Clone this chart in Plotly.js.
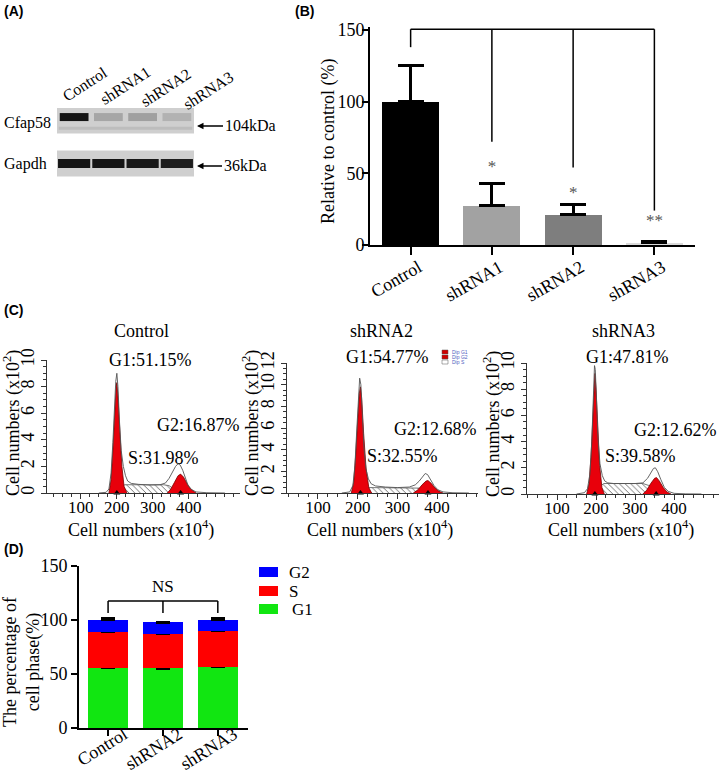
<!DOCTYPE html>
<html><head><meta charset="utf-8">
<script src="https://cdn.plot.ly/plotly-3.0.1.min.js"></script>
<style>html,body{margin:0;padding:0;background:#fff}#chart{width:720px;height:773px}</style>
</head><body><div id="chart"></div>
<script>
// ---------- Panel A : western blot ----------
const blotLanes = ['Control', 'shRNA1', 'shRNA2', 'shRNA3'];
const blotRows = ['Gapdh', 'Cfap58'];
const blotSizes = ['36kDa', '104kDa'];
const cfap58Intensity = [0.95, 0.2, 0.23, 0.14];
const gapdhIntensity = [0.95, 0.95, 0.93, 0.9];

// ---------- Panel B : relative expression ----------
const knockCategories = ['Control', 'shRNA1', 'shRNA2', 'shRNA3'];
const knockValues = [100, 27.5, 21, 1.5];
const knockErrors = [25, 15.5, 7, 1];
const knockStars = ['', '*', '*', '**'];
const knockStarY = [0, 54, 36, 16];
const knockBracketTop = 150.5;
const knockBracketEnds = [138, 72, 54, 24];

// ---------- Panel C : cell cycle histograms ----------
const cyclePanels = ['Control', 'shRNA2', 'shRNA3'];
const g1Pcts = [51.15, 54.77, 47.81];
const sPcts = [31.98, 32.55, 39.58];
const g2Pcts = [16.87, 12.68, 12.62];

const ctrlEnvX = [150,170,178,184,189,194,197,200,203,207,212,218,224,230,240,260,290,320,335,345,355,363,370,376,383,390,398,408,420,450,500];
const ctrlEnvY = [0,0.05,0.3,1.5,3.8,6.8,8.4,9.0,8.0,5.5,3.2,2.0,1.3,0.9,0.72,0.65,0.6,0.62,0.75,1.1,1.6,2.0,2.2,2.1,1.7,1.1,0.55,0.25,0.08,0.02,0];
const ctrlG1X = [178,184,189,194,198,200,203,208,214,220,228];
const ctrlG1Y = [0,1.0,3.2,6.2,8.0,8.3,7.3,4.8,2.0,0.5,0];
const ctrlG2X = [340,350,360,370,377,385,395,405,420];
const ctrlG2Y = [0,0.3,0.8,1.3,1.42,1.2,0.7,0.3,0];
const ctrlSX = [195,210,222,260,300,330,345,360,375];
const ctrlSY = [0,0.45,0.62,0.63,0.6,0.62,0.55,0.3,0];
const ctrlPeaks = [200, 377];

const sh2EnvX = [160,180,188,193,198,202,205,208,212,216,221,227,234,245,270,300,330,345,355,363,370,376,383,392,402,415,440,480];
const sh2EnvY = [0,0.1,0.7,2.5,6.0,9.2,10.6,10.0,7.0,4.0,2.2,1.3,0.85,0.65,0.55,0.5,0.55,0.75,1.1,1.5,1.8,1.7,1.3,0.7,0.3,0.1,0.02,0];
const sh2G1X = [184,190,195,200,204,207,210,215,221,228,235];
const sh2G1Y = [0,1.0,3.5,7.0,9.2,9.8,8.8,5.5,2.3,0.5,0];
const sh2G2X = [340,352,362,372,377,385,395,405,415];
const sh2G2Y = [0,0.3,0.75,1.1,1.15,0.9,0.45,0.15,0];
const sh2SX = [200,215,228,270,310,340,355,368,380];
const sh2SY = [0,0.35,0.5,0.48,0.45,0.5,0.45,0.25,0];
const sh2Peaks = [207, 377];

const sh3EnvX = [150,170,178,184,189,193,196,198,201,205,210,216,222,230,245,270,300,320,332,340,347,352,358,366,375,385,400,430,470];
const sh3EnvY = [0,0.1,0.4,1.5,4.0,7.5,9.8,9.5,7.0,4.2,2.3,1.4,1.0,0.85,0.8,0.78,0.8,0.85,1.2,1.6,1.95,2.0,1.7,1.1,0.5,0.2,0.05,0.01,0];
const sh3G1X = [176,182,187,191,194,197,200,204,209,215,221];
const sh3G1Y = [0,0.8,2.8,5.5,7.8,9.2,8.0,5.0,2.2,0.5,0];
const sh3G2X = [320,330,340,350,355,362,372,382,392];
const sh3G2Y = [0,0.3,0.8,1.2,1.25,1.0,0.5,0.15,0];
const sh3SX = [190,205,220,260,300,320,335,350,365];
const sh3SY = [0,0.5,0.8,0.82,0.8,0.8,0.65,0.3,0];
const sh3Peaks = [197, 354];

// ---------- Panel D : phase percentages ----------
const phaseCategories = ['Control', 'shRNA2', 'shRNA3'];
const phaseNames = ['G1', 'S', 'G2'];
const g1Values = [55.6, 55.3, 56.8];
const sValues = [33.4, 31.7, 33.0];
const g2Values = [11.0, 10.8, 10.2];
const g1Err = [1.8, 1.0, 4.5];
const sErr = [1.0, 0.8, 3.0];
const g2Err = [2.0, 0.5, 1.5];
const nsBracketTop = 117.6;
const nsBracketEnd = 106.5;
const nsLabelY = 129.6;

// ================= drawing =================
const SERIF = 'Liberation Serif';
const SANS = 'Liberation Sans';
const W = 720, H = 773;
const px = v => v / W;
const py = v => 1 - v / H;
const traces = [], shapes = [], annotations = [];
function note(text, x, y, size, extra) {
  annotations.push(Object.assign({text:text, xref:'paper', yref:'paper', x:px(x), y:py(y),
    xanchor:'center', yanchor:'middle', showarrow:false,
    font:{family:SERIF, size:size, color:'#000'}}, extra || {}));
}

// ---- A ----
blotRows.forEach((row, r) => {
  shapes.push({type:'rect', xref:'x6', yref:'y6', x0:-0.5, x1:blotLanes.length - 0.5,
    y0:r - 0.3, y1:r + 0.3, fillcolor:'#cfcfcf', line:{width:0}, layer:'below'});
});
traces.push({type:'scatter', mode:'lines', xaxis:'x6', yaxis:'y6',
  x:[-0.45, blotLanes.length - 0.55], y:[0.82, 0.82],
  line:{color:'#bdbdbd', width:3}, hoverinfo:'skip', showlegend:false});
[gapdhIntensity, cfap58Intensity].forEach((vals, r) => {
  vals.forEach((v, i) => {
    const g = Math.round(205 - 195 * v);
    const half = r === 1 ? 0.42 : 0.47;
    const yy = r + (r === 1 ? 0.08 : 0);
    traces.push({type:'scatter', mode:'lines', xaxis:'x6', yaxis:'y6',
      x:[i - half, i + half], y:[yy, yy],
      line:{color:`rgb(${g},${g},${g})`, width: r === 1 ? 8 : 9},
      hoverinfo:'skip', showlegend:false});
  });
});
const laneLabelPos = [[84, 84], [125, 85], [166, 88], [208, 90]];
blotLanes.forEach((l, i) => note(l, laneLabelPos[i][0], laneLabelPos[i][1], 16, {textangle:-33}));
const rowLabelPos = [[26, 164], [27.5, 123]];
const arrowY = [166, 126];
blotRows.forEach((row, r) => {
  note(row, rowLabelPos[r][0], rowLabelPos[r][1], 16);
  annotations.push({text:blotSizes[r], xref:'paper', yref:'paper', x:px(197), y:py(arrowY[r]),
    xanchor:'center', yanchor:'middle',
    showarrow:true, ax: r === 1 ? 53 : 48, ay:0, arrowhead:2, arrowsize:1, arrowwidth:1.3,
    arrowcolor:'#000', standoff:0, font:{family:SERIF, size:16, color:'#000'}});
});

// ---- B ----
const knockColors = ['#000000', '#a2a2a2', '#7e7e7e', '#dadada'];
traces.push({type:'bar', xaxis:'x', yaxis:'y', x:knockCategories, y:knockValues, width:0.7,
  marker:{color:knockColors, line:{width:0}},
  error_y:{type:'data', symmetric:false, array:knockErrors, arrayminus:knockErrors.map(() => 0),
    color:'#000', thickness:3, width:13},
  hoverinfo:'skip', showlegend:false});
const bx = [knockCategories[0], knockCategories[knockCategories.length - 1]];
const by = [knockBracketTop, knockBracketTop];
knockCategories.forEach((c, i) => { bx.push(null, c, c); by.push(null, knockBracketTop, knockBracketEnds[i]); });
traces.push({type:'scatter', mode:'lines', xaxis:'x', yaxis:'y', x:bx, y:by,
  line:{color:'#000', width:1.5}, connectgaps:false, hoverinfo:'skip', showlegend:false});
traces.push({type:'scatter', mode:'text', xaxis:'x', yaxis:'y', x:knockCategories.slice(1), y:knockStarY.slice(1),
  text:knockStars.slice(1), textfont:{family:SERIF, size:17, color:'#555'}, hoverinfo:'skip', showlegend:false});
note('Relative to control (%)', 328, 142, 18, {textangle:-90});

// ---- C ----
const hist = [
  {env:[ctrlEnvX, ctrlEnvY], g1:[ctrlG1X, ctrlG1Y], g2:[ctrlG2X, ctrlG2Y], s:[ctrlSX, ctrlSY], peaks:ctrlPeaks},
  {env:[sh2EnvX, sh2EnvY], g1:[sh2G1X, sh2G1Y], g2:[sh2G2X, sh2G2Y], s:[sh2SX, sh2SY], peaks:sh2Peaks},
  {env:[sh3EnvX, sh3EnvY], g1:[sh3G1X, sh3G1Y], g2:[sh3G2X, sh3G2Y], s:[sh3SX, sh3SY], peaks:sh3Peaks}
];
hist.forEach((h, k) => {
  const xa = 'x' + (k + 2), ya = 'y' + (k + 2);
  traces.push({type:'scatter', mode:'lines', xaxis:xa, yaxis:ya, x:h.s[0], y:h.s[1], fill:'tozeroy',
    fillcolor:'rgba(255,255,255,0)', fillpattern:{shape:'\\', fgcolor:'#555', bgcolor:'#fff', size:4, solidity:0.2},
    line:{color:'#555', width:0.8}, hoverinfo:'skip', showlegend:false});
  [h.g1, h.g2].forEach(p => traces.push({type:'scatter', mode:'lines', xaxis:xa, yaxis:ya, x:p[0], y:p[1],
    fill:'tozeroy', fillcolor:'#e8000b', line:{color:'#7a0000', width:0.8}, hoverinfo:'skip', showlegend:false}));
  traces.push({type:'scatter', mode:'lines', xaxis:xa, yaxis:ya, x:h.env[0], y:h.env[1],
    line:{color:'#555', width:0.9}, hoverinfo:'skip', showlegend:false});
  traces.push({type:'scatter', mode:'markers', xaxis:xa, yaxis:ya, x:h.peaks, y:h.peaks.map(() => 0),
    marker:{symbol:'triangle-up', size:6, color:'#000'}, cliponaxis:false, hoverinfo:'skip', showlegend:false});
});
const titlePos = [[141, 331], [381, 331], [623, 331]];
const g1Pos = [[150, 360], [387, 357], [627, 357]];
const g2Pos = [[198, 425], [435, 429], [675, 430]];
const sPos = [[163, 458], [402, 456], [640, 456]];
const xTitlePos = [[141, 529], [380, 529], [621, 529]];
const yTitlePos = [[12, 423], [251, 423], [492, 424]];
cyclePanels.forEach((name, k) => {
  note(name, titlePos[k][0], titlePos[k][1], 18);
  note('G1:' + g1Pcts[k].toFixed(2) + '%', g1Pos[k][0], g1Pos[k][1], 18);
  note('G2:' + g2Pcts[k].toFixed(2) + '%', g2Pos[k][0], g2Pos[k][1], 18);
  note('S:' + sPcts[k].toFixed(2) + '%', sPos[k][0], sPos[k][1], 18);
  note('Cell numbers (x10<sup>4</sup>)', xTitlePos[k][0], xTitlePos[k][1], 18);
  note('Cell numbers (x10<sup>2</sup>)', yTitlePos[k][0], yTitlePos[k][1], 18, {textangle:-90});
});
const miniLegend = ['Dip G1', 'Dip G2', 'Dip S'];
miniLegend.forEach((t, i) => {
  const yc = 352 + i * 5;
  shapes.push({type:'rect', xref:'paper', yref:'paper', x0:px(442), x1:px(448), y0:py(yc + 2), y1:py(yc - 2),
    fillcolor: i < 2 ? '#d00000' : '#fff', line:{color:'#555', width:0.5}});
  note(t, 450, yc, 5, {xanchor:'left', font:{family:SANS, size:5, color:'#5060c0'}});
});

// ---- D ----
const phaseColors = ['#11e611', '#ff0000', '#0000ff'];
[[g1Values, g1Err], [sValues, sErr], [g2Values, g2Err]].forEach(([vals, err], k) => traces.push({type:'bar',
  name:phaseNames[k], xaxis:'x5', yaxis:'y5',
  x:phaseCategories, y:vals, width:0.73, marker:{color:phaseColors[k], line:{width:0}},
  error_y:{type:'data', symmetric:false, array:err, arrayminus:err.map(() => 0), color:'#000', thickness:2.5, width:7},
  hoverinfo:'skip', showlegend:false}));
const nx = [phaseCategories[0], phaseCategories[phaseCategories.length - 1]];
const ny = [nsBracketTop, nsBracketTop];
phaseCategories.forEach(c => { nx.push(null, c, c); ny.push(null, nsBracketTop, nsBracketEnd); });
traces.push({type:'scatter', mode:'lines', xaxis:'x5', yaxis:'y5', x:nx, y:ny,
  line:{color:'#000', width:1.5}, hoverinfo:'skip', showlegend:false});
traces.push({type:'scatter', mode:'text', xaxis:'x5', yaxis:'y5', x:[phaseCategories[1]], y:[nsLabelY],
  text:['NS'], textfont:{family:SERIF, size:17, color:'#000'}, hoverinfo:'skip', showlegend:false});
const legendRowY = [609, 591, 572];
phaseNames.forEach((n, k) => {
  const yc = legendRowY[k];
  shapes.push({type:'rect', xref:'paper', yref:'paper', x0:px(259), x1:px(278), y0:py(yc + 5), y1:py(yc - 5),
    fillcolor:phaseColors[k], line:{width:0}});
  note(n, n === 'G1' ? 290 : 287, yc, 17, {xanchor:'left'});
});
note('The percentage of<br>cell phase(%)', 22, 662, 18, {textangle:-90});

// panel letters
[['(A)', 2, 11], ['(B)', 293, 11], ['(C)', 2, 310], ['(D)', 2, 549]].forEach(([t, x, y]) =>
  note('<b>' + t + '</b>', x, y, 14, {xanchor:'left', font:{family:SANS, size:14, color:'#000'}}));

// axes
const serifTick = () => ({family:SERIF, size:18, color:'#000'});
function histX(dom, range) {
  return {domain:[px(dom[0]), px(dom[1])], range:range, tickvals:[100, 200, 300, 400], ticks:'outside',
    ticklen:5, tickwidth:1, tickcolor:'#333', minor:{tickmode:'linear', tick0:0, dtick:25, ticklen:3, tickcolor:'#333', ticks:'outside'},
    showline:true, linecolor:'#333', linewidth:1, tickfont:{family:SERIF, size:17, color:'#000'}, ticklabelstandoff:-6,
    showgrid:false, zeroline:false, fixedrange:true};
}
function histY(dom, top) {
  return {domain:[py(dom[0]), py(dom[1])], range:[0, top], tick0:0, dtick:2, tickangle:-90, ticks:'outside',
    ticklen:5, tickwidth:1, tickcolor:'#333', minor:{dtick:0.5, ticklen:3, tickcolor:'#333', ticks:'outside'},
    showline:true, linecolor:'#333', linewidth:1, tickfont:serifTick(),
    showgrid:false, zeroline:false, fixedrange:true};
}

const layout = {
  width:W, height:H, margin:{l:0, r:0, t:0, b:0}, paper_bgcolor:'#fff', plot_bgcolor:'rgba(0,0,0,0)',
  barmode:'stack', showlegend:false, font:{family:SERIF, color:'#000'},
  xaxis:{domain:[px(370), px(695)], anchor:'y', type:'category', range:[-0.5, 3.5], showline:true,
    linecolor:'#000', linewidth:2, ticks:'outside', ticklen:8, tickwidth:2, tickcolor:'#000', tickangle:-30,
    tickfont:serifTick(), ticklabelshift:8, ticklabelstandoff:-5, showgrid:false, zeroline:false, fixedrange:true},
  yaxis:{domain:[py(245), py(27.1)], anchor:'x', range:[0, 152], tickvals:[0, 50, 100, 150], ticks:'outside',
    ticklen:6, tickwidth:2, tickcolor:'#000', showline:true, linewidth:2, linecolor:'#000', tickfont:serifTick(),
    ticklabelstandoff:-6, showgrid:false, zeroline:false, fixedrange:true},
  xaxis2:Object.assign(histX([47, 240], [6, 542]), {anchor:'y2'}),
  yaxis2:Object.assign(histY([493, 360], 10), {anchor:'x2'}),
  xaxis3:Object.assign(histX([287, 478], [22, 503]), {anchor:'y3'}),
  yaxis3:Object.assign(histY([493, 363], 12), {anchor:'x3'}),
  xaxis4:Object.assign(histX([527, 719], [23, 515]), {anchor:'y4'}),
  yaxis4:Object.assign(histY([494, 363], 10), {anchor:'x4'}),
  xaxis5:{domain:[px(79), px(248)], anchor:'y5', type:'category', range:[-0.53, 2.55], showline:true,
    linecolor:'#000', linewidth:2, ticks:'outside', ticklen:6, tickwidth:2, tickcolor:'#000', tickangle:-32,
    tickfont:serifTick(), ticklabelshift:16, ticklabelstandoff:-19, showgrid:false, zeroline:false, fixedrange:true},
  yaxis5:{domain:[py(728), py(566)], anchor:'x5', range:[0, 150], tickvals:[0, 50, 100, 150], ticks:'outside',
    ticklen:6, tickwidth:2, tickcolor:'#000', showline:true, linewidth:2, linecolor:'#000', tickfont:serifTick(),
    showgrid:false, zeroline:false, fixedrange:true},
  xaxis6:{domain:[px(57), px(194)], anchor:'y6', range:[-0.5, 3.5], visible:false, fixedrange:true},
  yaxis6:{domain:[py(177), py(108)], anchor:'x6', range:[-0.314, 1.291], visible:false, fixedrange:true},
  shapes:shapes, annotations:annotations
};
Plotly.newPlot('chart', traces, layout, {staticPlot:true, displayModeBar:false});
</script></body></html>
